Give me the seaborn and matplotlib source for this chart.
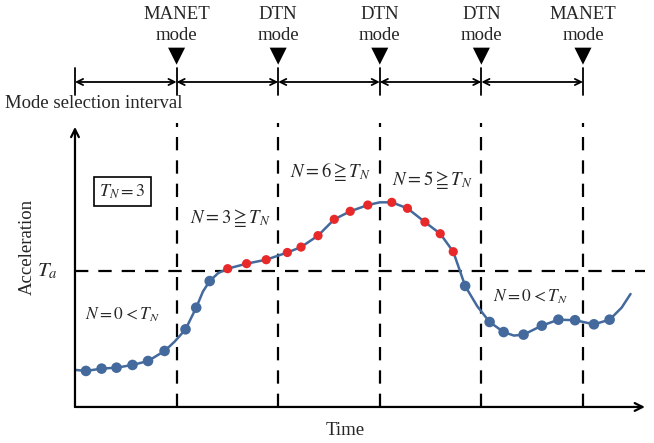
import numpy as np
import pandas as pd
import seaborn as sns
import matplotlib.pyplot as plt

# mode decisions at the end of every selection interval
mode_times = [0, 1, 2, 3, 4, 5]
mode_names = ["MANET", "DTN", "DTN", "DTN", "MANET"]
t_a = 1.0

# acceleration samples (blue: below T_a, red: above T_a)
sample_t = [0.108, 0.262, 0.409, 0.566, 0.719, 0.882, 1.088, 1.193, 1.326,
            1.503, 1.689, 1.882, 2.090, 2.225, 2.392, 2.552, 2.709, 2.882,
            3.118, 3.272, 3.444, 3.595, 3.723,
            3.840, 4.081, 4.219, 4.415, 4.595, 4.758, 4.922, 5.108, 5.262]
sample_a = [0.265, 0.282, 0.289, 0.309, 0.338, 0.412, 0.571, 0.730, 0.926,
            1.017, 1.054, 1.083, 1.136, 1.176, 1.260, 1.380, 1.439, 1.485,
            1.505, 1.461, 1.360, 1.274, 1.142,
            0.890, 0.625, 0.551, 0.532, 0.598, 0.642, 0.638, 0.608, 0.642]

# curve vertices (samples plus a few extra shape points)
curve_t = [0.01, 0.108, 0.262, 0.409, 0.566, 0.719, 0.882, 0.98, 1.088, 1.193,
           1.26, 1.326, 1.41, 1.503, 1.689, 1.882, 2.090, 2.225, 2.392, 2.552,
           2.709, 2.882, 3.0, 3.118, 3.272, 3.444, 3.595, 3.723, 3.78, 3.840,
           3.96, 4.081, 4.219, 4.32, 4.415, 4.595, 4.758, 4.922, 5.108, 5.262,
           5.38, 5.468]
curve_a = [0.272, 0.265, 0.282, 0.289, 0.309, 0.338, 0.412, 0.48, 0.571, 0.730,
           0.85, 0.926, 0.985, 1.017, 1.054, 1.083, 1.136, 1.176, 1.260, 1.380,
           1.439, 1.485, 1.505, 1.505, 1.461, 1.360, 1.274, 1.142, 1.02, 0.890,
           0.74, 0.625, 0.551, 0.525, 0.532, 0.598, 0.642, 0.638, 0.608, 0.642,
           0.73, 0.831]

samples = pd.DataFrame({"t": sample_t, "a": sample_a})
samples["above"] = samples["a"] > t_a
curve = pd.DataFrame({"t": curve_t, "a": curve_a})

sns.set_style("white")
plt.rcParams['font.family'] = ['Liberation Serif', 'DejaVu Serif']
plt.rcParams['mathtext.fontset'] = 'stix'

blue = '#44699c'
red = '#e8292a'
dash = (0, (6, 4.5))

fig = plt.figure(figsize=(6.54, 4.43), dpi=100)
ax = fig.add_axes([0, 0, 1, 1])
ax.set_xlim(-0.738, 5.699)
ax.set_ylim(-0.265, 2.993)
ax.axis('off')

# axes with arrows
ax.annotate('', xy=(5.61, 0), xytext=(0, 0),
            arrowprops=dict(arrowstyle='->', lw=1.6, color='black', shrinkA=0, shrinkB=0,
                            mutation_scale=14))
ax.annotate('', xy=(0, 2.06), xytext=(0, 0),
            arrowprops=dict(arrowstyle='->', lw=1.6, color='black', shrinkA=0, shrinkB=0,
                            mutation_scale=14))

# dashed guides
for t in mode_times[1:]:
    ax.plot([t, t], [0, 2.088], color='black', lw=1.6, ls=dash)
ax.plot([0, 5.61], [t_a, t_a], color='black', lw=1.6, ls=dash)

# interval ticks and double arrows
for t in mode_times:
    ax.plot([t, t], [2.294, 2.493], color='black', lw=1.3)
for t0, t1 in zip(mode_times[:-1], mode_times[1:]):
    ax.annotate('', xy=(t1, 2.39), xytext=(t0, 2.39),
                arrowprops=dict(arrowstyle='<->', lw=1.3, color='black', shrinkA=0, shrinkB=0,
                                mutation_scale=11))

# mode markers and labels
marks = pd.DataFrame({"t": mode_times[1:], "y": [2.58] * 5})
sns.scatterplot(data=marks, x="t", y="y", marker='v', s=150, color='black',
                edgecolor='none', ax=ax, legend=False)
for t, name in zip(mode_times[1:], mode_names):
    ax.text(t, 2.81, f"{name}\nmode", ha='center', va='center', fontsize=13.5,
            linespacing=1.25)

# curve and samples
sns.lineplot(data=curve, x="t", y="a", color=blue, lw=1.8, sort=False, ax=ax)
sns.scatterplot(data=samples[~samples["above"]], x="t", y="a", color=blue, s=58,
                edgecolor='none', ax=ax, legend=False, zorder=3)
sns.scatterplot(data=samples[samples["above"]], x="t", y="a", color=red, s=44,
                edgecolor='none', ax=ax, legend=False, zorder=3)

# texts
ax.text(-0.69, 2.235, "Mode selection interval", ha='left', va='center', fontsize=13.5)
ax.text(-0.47, 1.18, "Acceleration", rotation=90, ha='center', va='center', fontsize=13.5)
ax.text(-0.27, 1.0, r"$T_a$", ha='center', va='center', fontsize=15)
ax.text(2.66, -0.17, "Time", ha='center', va='center', fontsize=13.5)
ax.text(0.47, 1.585, r"$T_N = 3$", ha='center', va='center', fontsize=13,
        bbox=dict(boxstyle='square,pad=0.3', fc='white', ec='black', lw=1.2))
ax.text(1.53, 1.39, r"$N = 3 \geqq T_N$", ha='center', va='center', fontsize=13.5)
ax.text(2.51, 1.73, r"$N = 6 \geqq T_N$", ha='center', va='center', fontsize=13.5)
ax.text(3.52, 1.67, r"$N = 5 \geqq T_N$", ha='center', va='center', fontsize=13.5)
ax.text(0.47, 0.68, r"$N = 0 < T_N$", ha='center', va='center', fontsize=12.5)
ax.text(4.48, 0.81, r"$N = 0 < T_N$", ha='center', va='center', fontsize=12.5)

fig.savefig("out.png", dpi=100)
